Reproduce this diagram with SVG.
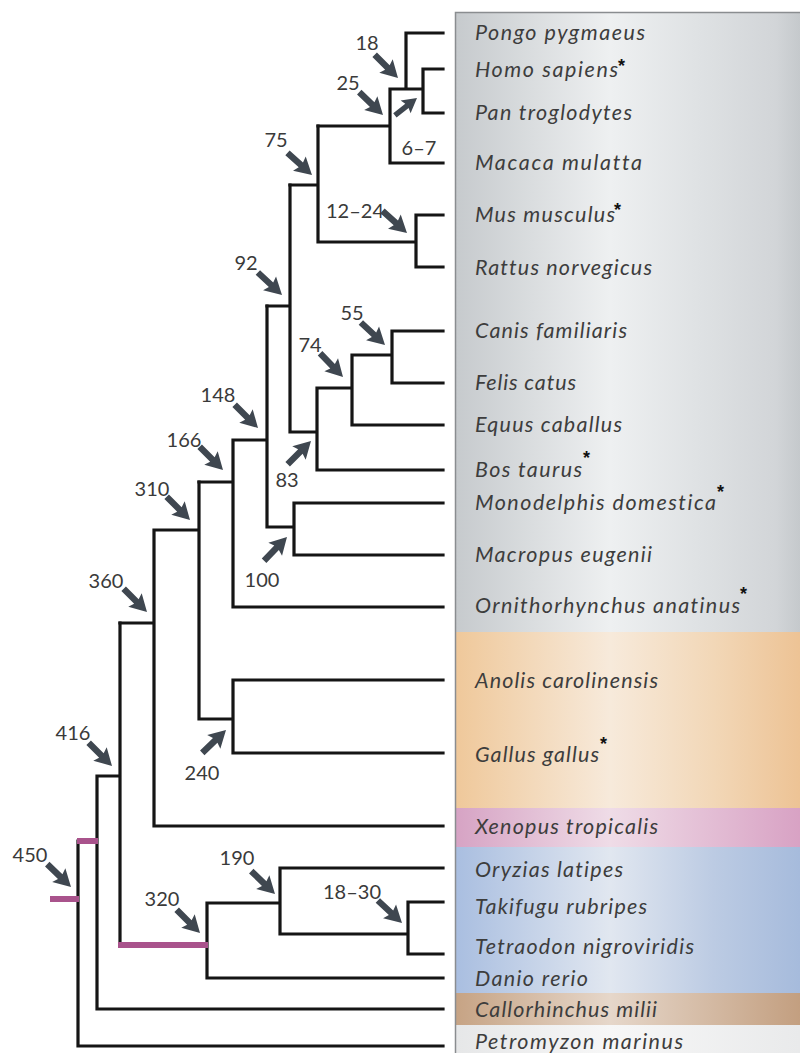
<svg xmlns="http://www.w3.org/2000/svg" xmlns:xlink="http://www.w3.org/1999/xlink" width="800" height="1053" viewBox="0 0 800 1053">
<defs>
<style>
.br{fill:none;stroke:#151515;stroke-width:3.2;stroke-linecap:square}
.pk{fill:none;stroke:#a9538c;stroke-width:6;stroke-linecap:butt}
.sp{font-family:Lato,"Open Sans","DejaVu Sans",sans-serif;font-style:italic;font-size:21.5px;fill:#3d3d3d;font-variant-ligatures:none}
.ast{font-family:"Liberation Sans",Arial,sans-serif;font-weight:bold;font-size:18px;fill:#111}
.num{font-family:Lato,"Open Sans","DejaVu Sans",sans-serif;font-size:20px;fill:#3a3a3a;text-anchor:middle}
.arw{fill:#3f4750}
</style>
<path id="arr" d="M-33,-3.2 L-15,-3.2 L-17,-9.5 L0,0 L-17,9.5 L-15,3.2 L-33,3.2 Z"/>
<linearGradient id="gGray" x1="0" x2="1" y1="0" y2="0">
<stop offset="0" stop-color="#c6cacd"/><stop offset="0.45" stop-color="#eef0f1"/><stop offset="0.7" stop-color="#dfe2e4"/><stop offset="0.93" stop-color="#d2d5d8"/><stop offset="1" stop-color="#c5c9cc"/>
</linearGradient>
<linearGradient id="gOr" x1="0" x2="1" y1="0" y2="0">
<stop offset="0" stop-color="#efc89a"/><stop offset="0.45" stop-color="#f7eadb"/><stop offset="0.75" stop-color="#f2d7b7"/><stop offset="1" stop-color="#edc395"/>
</linearGradient>
<linearGradient id="gPk" x1="0" x2="1" y1="0" y2="0">
<stop offset="0" stop-color="#d6a3c4"/><stop offset="0.45" stop-color="#efdce7"/><stop offset="1" stop-color="#d8a2c4"/>
</linearGradient>
<linearGradient id="gBl" x1="0" x2="1" y1="0" y2="0">
<stop offset="0" stop-color="#a9bee0"/><stop offset="0.45" stop-color="#e1e7f0"/><stop offset="0.75" stop-color="#bccbe3"/><stop offset="1" stop-color="#a6bbdc"/>
</linearGradient>
<linearGradient id="gBr" x1="0" x2="1" y1="0" y2="0">
<stop offset="0" stop-color="#c6a384"/><stop offset="0.45" stop-color="#e6d7ca"/><stop offset="1" stop-color="#c39f80"/>
</linearGradient>
<linearGradient id="gLt" x1="0" x2="1" y1="0" y2="0">
<stop offset="0" stop-color="#e6e7e8"/><stop offset="0.45" stop-color="#f7f7f7"/><stop offset="1" stop-color="#e9eaeb"/>
</linearGradient>
</defs>
<rect x="0" y="0" width="800" height="1053" fill="#ffffff"/>
<g id="panel">
<rect x="455" y="12" width="345" height="620" fill="url(#gGray)"/>
<rect x="455" y="632" width="345" height="176" fill="url(#gOr)"/>
<rect x="455" y="808" width="345" height="39" fill="url(#gPk)"/>
<rect x="455" y="847" width="345" height="146" fill="url(#gBl)"/>
<rect x="455" y="993" width="345" height="32" fill="url(#gBr)"/>
<rect x="455" y="1025" width="345" height="28" fill="url(#gLt)"/>
<path d="M455.5,1053 V12.5 H800" fill="none" stroke="#8a8d90" stroke-width="1.5"/>
</g>
<g id="connectors">
<path class="br" d="M406,33 H443 M406,33 V89 M423,69 H443 M423,113 H443 M423,69 V113 M390,89 H423 M390,163 H443 M390,89 V163 M318,126 H390"/>
<path class="br" d="M416,215 H443 M416,267 H443 M416,215 V267 M318,242 H416 M318,126 V242 M290,185 H318"/>
<path class="br" d="M392,331 H443 M392,383 H443 M392,331 V383 M352,355 H392 M352,425 H443 M352,355 V425 M317,388 H352 M317,470 H443 M317,388 V470 M290,432 H317 M290,185 V432 M267,306 H290"/>
<path class="br" d="M294,503 H443 M294,555 H443 M294,503 V555 M267,527 H294 M267,306 V527 M233,440 H267 M233,607 H443 M233,440 V607 M199,482 H233"/>
<path class="br" d="M233,680 H443 M233,753 H443 M233,680 V753 M199,719 H233 M199,482 V719 M154,530 H199 M154,826 H443 M154,530 V826 M120,623 H154"/>
<path class="br" d="M280,868 H443 M408,902 H443 M408,954 H443 M408,902 V954 M280,934 H408 M280,868 V934 M207,903 H280 M207,978 H443 M207,903 V978 M120,623 V945 M97,776 H120 M97,1009 H443 M97,776 V1009 M78,1046 H443 M78,841 V1046"/>
<path class="pk" d="M118,945 H208 M77,841 H98 M50,899 H79"/>
</g>
<g id="species">
<g id="n-pongo"><text class="sp" x="475" y="40" textLength="170">Pongo pygmaeus</text></g>
<g id="n-homo"><text class="sp" x="475" y="77" textLength="143">Homo sapiens</text><text class="ast" x="618" y="72">*</text></g>
<g id="n-pan"><text class="sp" x="475" y="120" textLength="157">Pan troglodytes</text></g>
<g id="n-macaca"><text class="sp" x="475" y="170" textLength="167">Macaca mulatta</text></g>
<g id="n-mus"><text class="sp" x="475" y="222" textLength="140">Mus musculus</text><text class="ast" x="614" y="216">*</text></g>
<g id="n-rattus"><text class="sp" x="475" y="275" textLength="177">Rattus norvegicus</text></g>
<g id="n-canis"><text class="sp" x="475" y="338" textLength="152">Canis familiaris</text></g>
<g id="n-felis"><text class="sp" x="475" y="390" textLength="101">Felis catus</text></g>
<g id="n-equus"><text class="sp" x="475" y="432" textLength="147">Equus caballus</text></g>
<g id="n-bos"><text class="sp" x="475" y="477" textLength="107">Bos taurus</text><text class="ast" x="583" y="464">*</text></g>
<g id="n-monodelphis"><text class="sp" x="475" y="510" textLength="241">Monodelphis domestica</text><text class="ast" x="717" y="498">*</text></g>
<g id="n-macropus"><text class="sp" x="475" y="562" textLength="177">Macropus eugenii</text></g>
<g id="n-ornithorhynchus"><text class="sp" x="475" y="613" textLength="265">Ornithorhynchus anatinus</text><text class="ast" x="740" y="600">*</text></g>
<g id="n-anolis"><text class="sp" x="475" y="688" textLength="183">Anolis carolinensis</text></g>
<g id="n-gallus"><text class="sp" x="475" y="762" textLength="124">Gallus gallus</text><text class="ast" x="600" y="750">*</text></g>
<g id="n-xenopus"><text class="sp" x="475" y="834" textLength="183">Xenopus tropicalis</text></g>
<g id="n-oryzias"><text class="sp" x="475" y="877" textLength="148">Oryzias latipes</text></g>
<g id="n-takifugu"><text class="sp" x="475" y="914" textLength="172">Takifugu rubripes</text></g>
<g id="n-tetraodon"><text class="sp" x="475" y="954" textLength="219">Tetraodon nigroviridis</text></g>
<g id="n-danio"><text class="sp" x="475" y="986" textLength="113">Danio rerio</text></g>
<g id="n-callorhinchus"><text class="sp" x="475" y="1017" textLength="182">Callorhinchus milii</text></g>
<g id="n-petromyzon"><text class="sp" x="475" y="1049" textLength="208">Petromyzon marinus</text></g>
</g>
<g id="divergence-times">
<g id="t18"><text class="num" x="367" y="50">18</text><use class="arw" xlink:href="#arr" transform="translate(398,78) rotate(45)"/></g>
<g id="t25"><text class="num" x="348" y="90">25</text><use class="arw" xlink:href="#arr" transform="translate(383,115) rotate(44)"/></g>
<g id="t6-7"><text class="num" x="419" y="155">6–7</text><use class="arw" xlink:href="#arr" transform="translate(417,98) rotate(-38) scale(0.85)"/></g>
<g id="t75"><text class="num" x="276" y="147">75</text><use class="arw" xlink:href="#arr" transform="translate(312,175) rotate(42)"/></g>
<g id="t12-24"><text class="num" x="355" y="218">12–24</text><use class="arw" xlink:href="#arr" transform="translate(407,233) rotate(42)"/></g>
<g id="t92"><text class="num" x="246" y="270">92</text><use class="arw" xlink:href="#arr" transform="translate(282,295) rotate(43)"/></g>
<g id="t55"><text class="num" x="352" y="320">55</text><use class="arw" xlink:href="#arr" transform="translate(385,345) rotate(43)"/></g>
<g id="t74"><text class="num" x="310" y="352">74</text><use class="arw" xlink:href="#arr" transform="translate(343,377) rotate(46)"/></g>
<g id="t83"><text class="num" x="287" y="487">83</text><use class="arw" xlink:href="#arr" transform="translate(311,441) rotate(-45)"/></g>
<g id="t148"><text class="num" x="218" y="402">148</text><use class="arw" xlink:href="#arr" transform="translate(258,428) rotate(45)"/></g>
<g id="t166"><text class="num" x="184" y="447">166</text><use class="arw" xlink:href="#arr" transform="translate(223,470) rotate(45)"/></g>
<g id="t100"><text class="num" x="262" y="587">100</text><use class="arw" xlink:href="#arr" transform="translate(287,537) rotate(-46)"/></g>
<g id="t310"><text class="num" x="152" y="496">310</text><use class="arw" xlink:href="#arr" transform="translate(190,520) rotate(45)"/></g>
<g id="t360"><text class="num" x="106" y="588">360</text><use class="arw" xlink:href="#arr" transform="translate(147,612) rotate(45)"/></g>
<g id="t240"><text class="num" x="202" y="780">240</text><use class="arw" xlink:href="#arr" transform="translate(226,730) rotate(-44)"/></g>
<g id="t416"><text class="num" x="73" y="740">416</text><use class="arw" xlink:href="#arr" transform="translate(112,766) rotate(45)"/></g>
<g id="t450"><text class="num" x="30" y="862">450</text><use class="arw" xlink:href="#arr" transform="translate(71,887) rotate(44)"/></g>
<g id="t190"><text class="num" x="237" y="865">190</text><use class="arw" xlink:href="#arr" transform="translate(275,894) rotate(44)"/></g>
<g id="t18-30"><text class="num" x="352" y="899">18–30</text><use class="arw" xlink:href="#arr" transform="translate(402,923) rotate(43)"/></g>
<g id="t320"><text class="num" x="162" y="906">320</text><use class="arw" xlink:href="#arr" transform="translate(200,933) rotate(45)"/></g>
</g>
</svg>
